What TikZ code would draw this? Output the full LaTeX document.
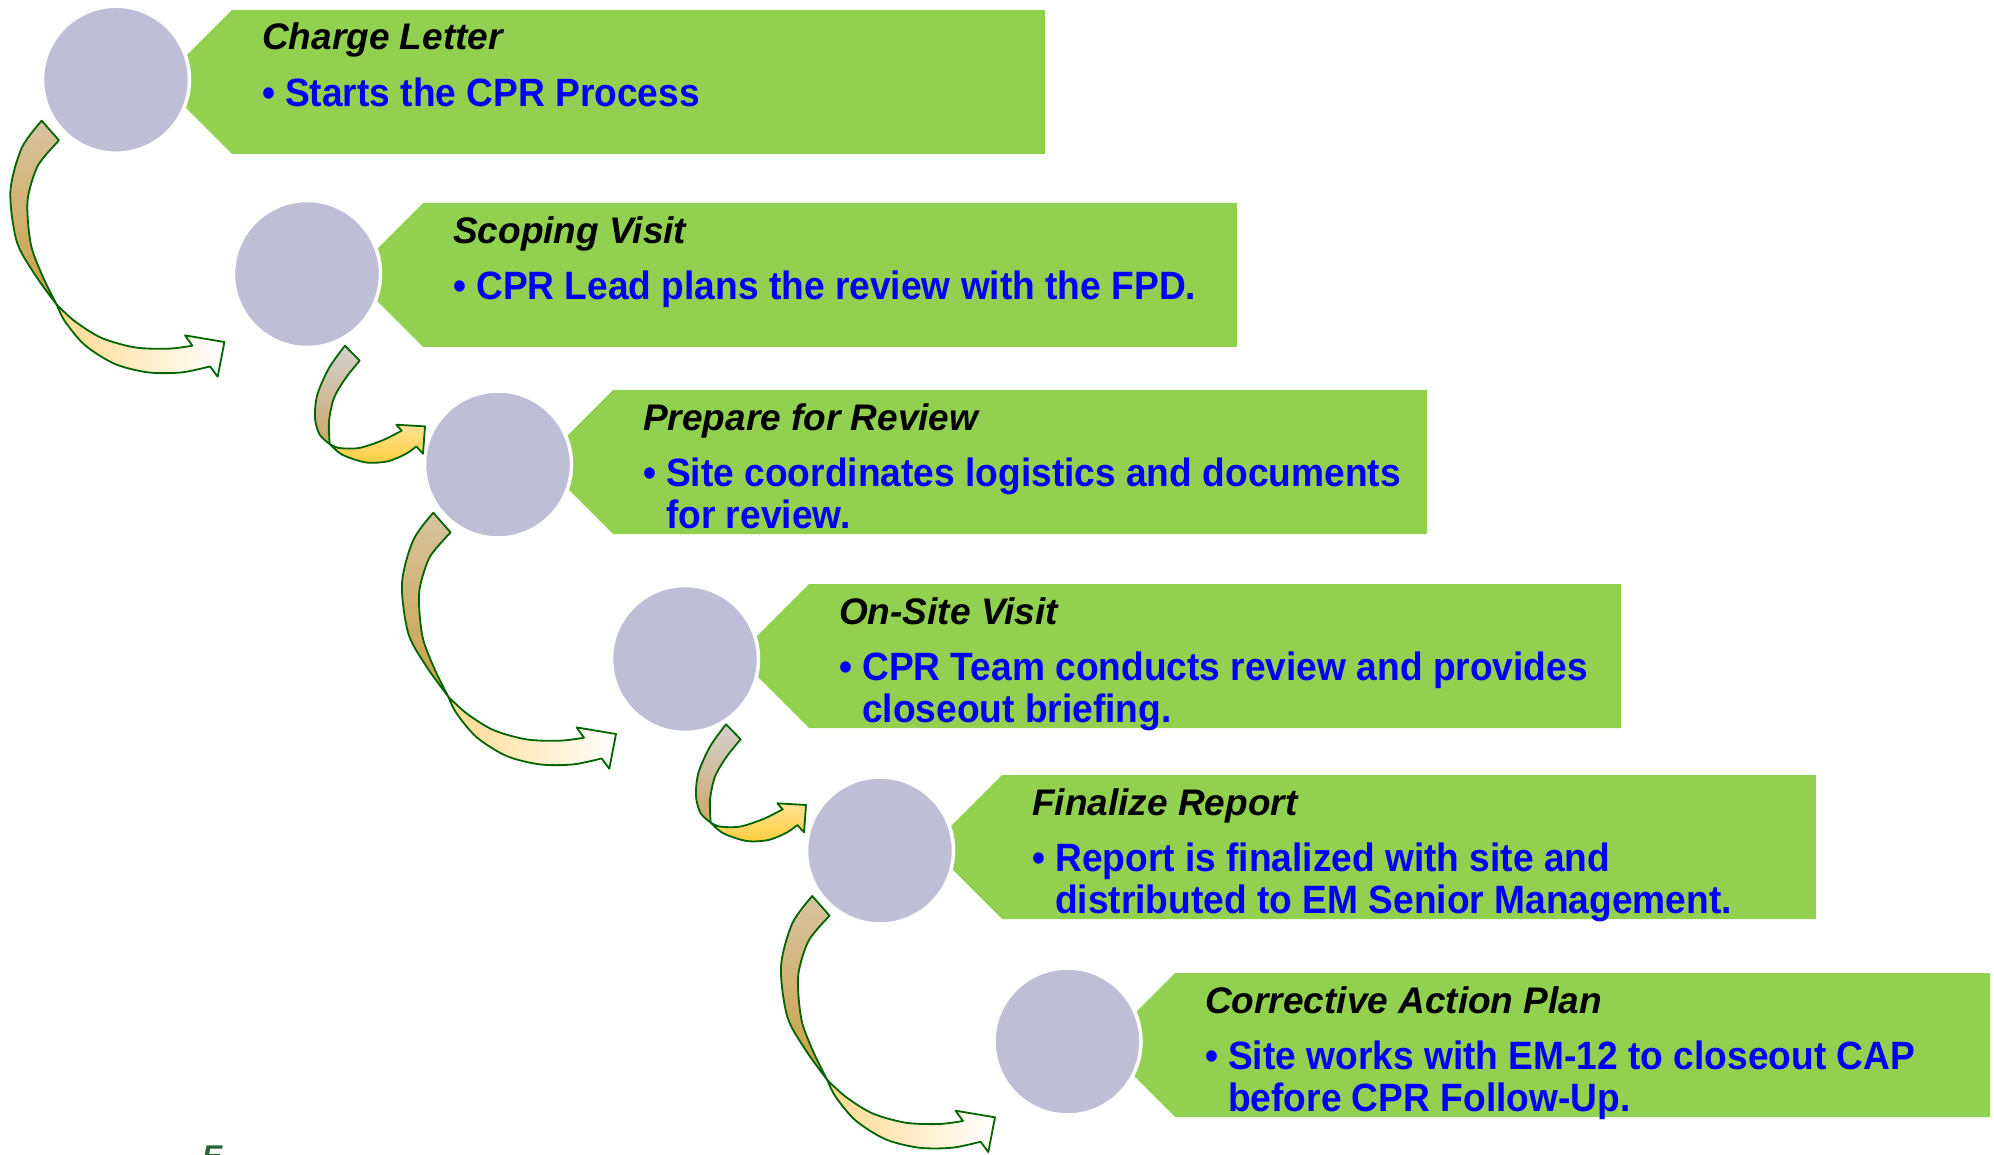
\documentclass[tikz,border=0pt]{standalone}
\usepackage{fontspec}
\setmainfont{Liberation Sans}
\newfontfamily\bodyfont[FakeStretch=0.94]{Liberation Sans}
\definecolor{bannergreen}{RGB}{146,208,80}
\definecolor{discfill}{RGB}{190,191,214}
\definecolor{outlinegreen}{RGB}{0,100,0}
\definecolor{bodyblue}{RGB}{0,0,255}
\definecolor{stemtop}{RGB}{216,195,162}
\definecolor{stembot}{RGB}{200,160,64}
\definecolor{headleft}{RGB}{255,217,143}
\definecolor{sstemtop}{RGB}{211,209,205}
\definecolor{sstembot}{RGB}{205,166,106}
\definecolor{sheadtop}{RGB}{255,226,150}
\definecolor{sheadbot}{RGB}{255,205,60}
\definecolor{markgreen}{RGB}{40,100,55}
\tikzset{
  banner/.style={fill=bannergreen},
  disc/.style={circle, fill=discfill, draw=white, line width=3.5pt, minimum size=147pt, inner sep=0pt},
  titletext/.style={anchor=base west, inner sep=0pt, font=\fontsize{37}{42}\selectfont\bfseries\itshape, text=black},
  bodytext/.style={anchor=base west, inner sep=0pt, font=\bodyfont\fontsize{39.5}{42}\selectfont\bfseries, text=bodyblue},
  arrowline/.style={draw=outlinegreen, line width=1.8pt, line join=round},
  bigstem/.style={arrowline, top color=stemtop, bottom color=stembot},
  bighead/.style={arrowline, left color=headleft, right color=white},
  smallstem/.style={arrowline, top color=sstemtop, bottom color=sstembot},
  smallhead/.style={arrowline, top color=sheadtop, bottom color=sheadbot},
}
\newcommand\bannershape[3]{\path[banner] (#1,#2) -- (#3,#2) -- (#3,#2+144) -- (#1,#2+144) -- (#1-72,#2+72) -- cycle;}
\newcommand\bigcurve[1]{%
\begin{scope}[shift={#1}]
\path[bigstem] plot[smooth] coordinates {(0,0) (-20,27.3) (-31.3,70.7) (-25,120.7) (-6.7,154) (15,184)} -- plot[smooth] coordinates {(15,184) (1.7,157.3) (-10,127.3) (-14,97.3) (-13.3,74) (-3.3,44) (17.3,19.7)} -- cycle;
\path[bighead] plot[smooth] coordinates {(15,184) (33.3,200.7) (60,217.3) (93.3,226.7) (126.7,228) (150.7,225)} -- (143.3,214.7) -- (182.7,221.3) -- (176,256) -- plot[smooth] coordinates {(168.3,245.7) (140,251.7) (106.7,251.7) (73.3,243.3) (43.3,224.5) (23.3,200.7) (15,184)} -- cycle;
\end{scope}}
\newcommand\smallcurve[1]{%
\begin{scope}[shift={#1}]
\path[smallstem] plot[smooth] coordinates {(0,0) (-16,22.3) (-27.7,49) (-30,72.3) (-25.3,89) (-15.3,98.3)} -- plot[smooth] coordinates {(-15.3,98.3) (-16,75.7) (-11,52.3) (0.7,32.3) (14.7,15)} -- cycle;
\path[smallhead] plot[smooth] coordinates {(-15.3,98.3) (-2.7,109) (20.7,116.7) (42.3,115.7) (60.7,108.3) (71.3,100.7)} -- (78,108) -- (80,80.7) -- (51.3,79) -- plot[smooth] coordinates {(56.7,85) (37.3,94.7) (14,102.3) (-6,102.3) (-15.3,98.3)} -- cycle;
\end{scope}}
\begin{document}
\begin{tikzpicture}[x=1pt,y=-1pt]
\useasboundingbox (0,0) rectangle (1994,1155);
\clip (0,0) rectangle (1994,1155);
% banners
\bannershape{232}{10}{1045}
\bannershape{423}{203}{1237}
\bannershape{613}{390}{1427}
\bannershape{809}{584}{1621}
\bannershape{1002}{775}{1816}
\bannershape{1175}{973}{1990}
% discs
\node[disc] (c1) at (116,79.7) {};
\node[disc] (c2) at (307,274) {};
\node[disc] (c3) at (498,464.5) {};
\node[disc] (c4) at (685,659) {};
\node[disc] (c5) at (880,850.5) {};
\node[disc] (c6) at (1067.5,1041.5) {};
% texts 1
\node[titletext] (t1) at (262,50) {Charge Letter};
\node[bodytext] (d1) at (262,107) {•};
\node[bodytext] (b1) at (285,107) {Starts the CPR Process};
% texts 2
\node[titletext] (t2) at (453,244) {Scoping Visit};
\node[bodytext] (d2) at (453,300) {•};
\node[bodytext] (b2) at (476,300) {CPR Lead plans the review with the FPD.};
% texts 3
\node[titletext] (t3) at (643,430) {Prepare for Review};
\node[bodytext] (d3) at (643,486) {•};
\node[bodytext] (b3) at (666,486) {Site coordinates logistics and documents};
\node[bodytext] (b3b) at (666,528) {for review.};
% texts 4
\node[titletext] (t4) at (839,624) {On-Site Visit};
\node[bodytext] (d4) at (839,680) {•};
\node[bodytext] (b4) at (862,680) {CPR Team conducts review and provides};
\node[bodytext] (b4b) at (862,722) {closeout briefing.};
% texts 5
\node[titletext] (t5) at (1032,815) {Finalize Report};
\node[bodytext] (d5) at (1032,871) {•};
\node[bodytext] (b5) at (1055,871) {Report is finalized with site and};
\node[bodytext] (b5b) at (1055,913) {distributed to EM Senior Management.};
% texts 6
\node[titletext] (t6) at (1205,1013) {Corrective Action Plan};
\node[bodytext] (d6) at (1205,1069) {•};
\node[bodytext] (b6) at (1228,1069) {Site works with EM-12 to closeout CAP};
\node[bodytext] (b6b) at (1228,1111) {before CPR Follow-Up.};
% curved arrows
\bigcurve{(41.7,120.7)}
\smallcurve{(345,345.7)}
\bigcurve{(433.3,512.7)}
\smallcurve{(726,724.3)}
\bigcurve{(812.3,896)}
% clipped mark at the bottom edge
\node[anchor=north west, inner sep=0pt, text=markgreen, font=\fontsize{30}{30}\selectfont\bfseries\itshape] (mark) at (202,1146) {E};
\end{tikzpicture}
\end{document}
